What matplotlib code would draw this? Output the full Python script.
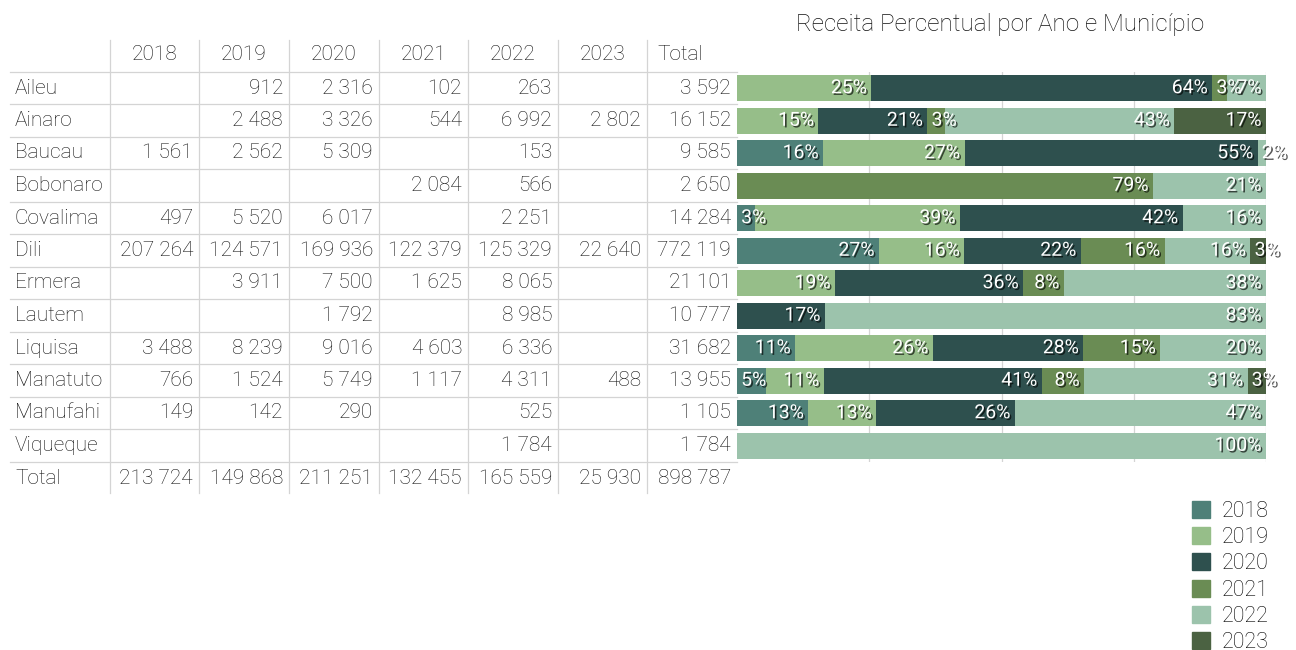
"""
Receita Percentual por Ano e Município - tabela + barras empilhadas
"""

import matplotlib
matplotlib.use('Agg')
import matplotlib.pyplot as plt
import matplotlib.patheffects as pe
from matplotlib.patches import Patch

plt.rcParams['font.family'] = ['Roboto', 'DejaVu Sans']
plt.rcParams['font.weight'] = 'light'

# 1. DADOS
municipios = ['Aileu', 'Ainaro', 'Baucau', 'Bobonaro', 'Covalima', 'Dili',
              'Ermera', 'Lautem', 'Liquisa', 'Manatuto', 'Manufahi', 'Viqueque']
anos = ['2018', '2019', '2020', '2021', '2022', '2023']

# 0 = célula vazia
v2018 = [0, 0, 1561, 0, 497, 207264, 0, 0, 3488, 766, 149, 0]
v2019 = [912, 2488, 2562, 0, 5520, 124571, 3911, 0, 8239, 1524, 142, 0]
v2020 = [2316, 3326, 5309, 0, 6017, 169936, 7500, 1792, 9016, 5749, 290, 0]
v2021 = [102, 544, 0, 2084, 0, 122379, 1625, 0, 4603, 1117, 0, 0]
v2022 = [263, 6992, 153, 566, 2251, 125329, 8065, 8985, 6336, 4311, 525, 1784]
v2023 = [0, 2802, 0, 0, 0, 22640, 0, 0, 0, 488, 0, 0]

total_municipio = [3592, 16152, 9585, 2650, 14284, 772119, 21101, 10777,
                   31682, 13955, 1105, 1784]
total_ano = [213724, 149868, 211251, 132455, 165559, 25930]
total_geral = 898787

cores = ['#4e8078', '#96be89', '#2e504e', '#6a8c54', '#9cc3ac', '#4b6242']

valores = [v2018, v2019, v2020, v2021, v2022, v2023]


def fmt(v):
    return f"{v:,}".replace(',', ' ')


# 2. FIGURA
W, H = 1296, 650
fig = plt.figure(figsize=(W / 100, H / 100), dpi=100)

# eixo "pixel" para a tabela
ax_t = fig.add_axes([0, 0, 1, 1])
ax_t.set_xlim(0, W)
ax_t.set_ylim(H, 0)
ax_t.axis('off')

cor_texto = '#111111'
cor_linha = '#d4d4d4'
fs_tab = 15

col_bordas = [110, 199, 289, 379, 468, 558, 647, 737]
y_header = 55
y0 = 88
dy = 32.5
n_linhas = len(municipios) + 1  # + Total

# linhas da tabela
for xb in col_bordas[:-1]:
    ax_t.plot([xb, xb], [40, y0 + dy * (n_linhas - 1) + 15], color=cor_linha, lw=0.9)
for i in range(n_linhas):
    yb = y0 - dy / 2 + dy * i
    ax_t.plot([10, 737], [yb, yb], color=cor_linha, lw=0.9)

# cabeçalho
for j, a in enumerate(anos):
    xc = (col_bordas[j] + col_bordas[j + 1]) / 2
    ax_t.text(xc, y_header, a, ha='center', va='center', fontsize=fs_tab, color=cor_texto)
ax_t.text(680, y_header, 'Total', ha='center', va='center', fontsize=fs_tab, color=cor_texto)

# linhas de municípios
for i, m in enumerate(municipios):
    y = y0 + dy * i
    ax_t.text(15, y, m, ha='left', va='center', fontsize=fs_tab, color=cor_texto)
    for j in range(len(anos)):
        v = valores[j][i]
        if v:
            ax_t.text(col_bordas[j + 1] - 6, y, fmt(v), ha='right', va='center',
                      fontsize=fs_tab, color=cor_texto)
    ax_t.text(col_bordas[-1] - 6, y, fmt(total_municipio[i]), ha='right', va='center',
              fontsize=fs_tab, color=cor_texto)

# linha de total
y = y0 + dy * len(municipios)
ax_t.text(15, y, 'Total', ha='left', va='center', fontsize=fs_tab, color=cor_texto)
for j in range(len(anos)):
    ax_t.text(col_bordas[j + 1] - 6, y, fmt(total_ano[j]), ha='right', va='center',
              fontsize=fs_tab, color=cor_texto)
ax_t.text(col_bordas[-1] - 6, y, fmt(total_geral), ha='right', va='center',
          fontsize=fs_tab, color=cor_texto)

# título
fig.text(1000 / W, 1 - 25 / H, 'Receita Percentual por Ano e Município',
         ha='center', va='center', fontsize=17.5, color=cor_texto)

# 3. BARRAS EMPILHADAS (percentual)
bx0, bx1 = 737, 1266
by0, by1 = 72, 462
ax_b = fig.add_axes([bx0 / W, 1 - by1 / H, (bx1 - bx0) / W, (by1 - by0) / H])
ax_b.set_xlim(0, 100)
ax_b.set_ylim(len(municipios) - 0.5, -0.5)
for s in ax_b.spines.values():
    s.set_visible(False)
ax_b.set_xticks([25, 50, 75, 100])
ax_b.set_yticks([])
ax_b.tick_params(length=0, labelbottom=False)
ax_b.grid(axis='x', color=cor_linha, lw=0.9)
ax_b.set_axisbelow(True)
ax_b.patch.set_alpha(0)

sombra = [pe.SimplePatchShadow(offset=(1.2, -1.2), shadow_rgbFace='black', alpha=0.65),
          pe.Normal()]

fig.canvas.draw()
renderer = fig.canvas.get_renderer()
px_por_pct = (bx1 - bx0) / 100

for i in range(len(municipios)):
    soma = sum(valores[j][i] for j in range(len(anos)))
    esquerda = 0
    for j in range(len(anos)):
        v = valores[j][i]
        if not v:
            continue
        p = v / soma * 100
        ax_b.barh(i, p, left=esquerda, height=0.8, color=cores[j], zorder=2)
        rotulo = f"{round(p)}%"
        t = ax_b.annotate(rotulo, xy=(esquerda + p, i), xytext=(-3, 0),
                          textcoords='offset points', ha='right', va='center',
                          fontsize=14, fontweight='normal', color='white',
                          zorder=5, path_effects=sombra)
        largura = t.get_window_extent(renderer).width
        if largura + 8 > p * px_por_pct:
            t.remove()
            ax_b.annotate(rotulo, xy=(esquerda, i), xytext=(3, 0),
                          textcoords='offset points', ha='left', va='center',
                          fontsize=14, fontweight='normal', color='white',
                          zorder=5, path_effects=sombra, annotation_clip=False)
        esquerda += p

# 4. LEGENDA
handles = [Patch(color=c) for c in cores]
fig.legend(handles, anos, loc='upper left', bbox_to_anchor=(1192 / W, 1 - 501 / H),
           frameon=False, fontsize=15.5, handlelength=0.84, handleheight=0.84,
           handletextpad=0.55, labelspacing=0.24, borderpad=0, borderaxespad=0)

fig.savefig('out.png', dpi=100)
print("✓ Salvo: out.png")
